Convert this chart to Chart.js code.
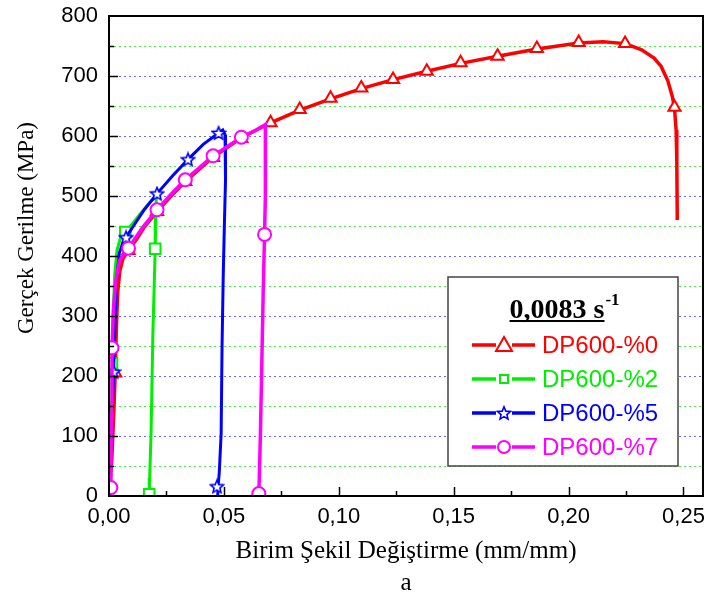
<!DOCTYPE html>
<html>
<head>
<meta charset="utf-8">
<script src="https://cdn.jsdelivr.net/npm/chart.js@4.4.0/dist/chart.umd.min.js"></script>
<style>
  html, body { margin: 0; padding: 0; background: #fff; }
</style>
</head>
<body>
<canvas id="myChart" width="705" height="604"></canvas>
<script>

// curves: [strain, stress MPa]
const curve0 = [[0,0],[0.0012,60],[0.0022,150],[0.0027,205],[0.0032,280],[0.0038,340],[0.0047,375],[0.006,395],[0.0085,410],[0.012,428],[0.0155,449],[0.0209,474],[0.027,500],[0.0332,524],[0.0453,565],[0.0576,597],[0.0703,622],[0.083,643],[0.0964,662],[0.1098,679],[0.1236,694],[0.1383,708],[0.153,721],[0.1691,733],[0.1862,745],[0.2044,755],[0.215,757],[0.2246,754],[0.2316,744],[0.2372,730],[0.2403,716],[0.2432,692],[0.2452,665],[0.2461,646],[0.2468,610],[0.2471,560],[0.2473,460]];
const curve2 = [[0,0],[0.0006,80],[0.001,160],[0.0013,221],[0.0018,300],[0.0025,370],[0.0035,410],[0.005,430],[0.0071,440],[0.0105,455],[0.014,472],[0.0175,488],[0.0206,500],[0.0204,470],[0.0201,412],[0.0196,340],[0.0191,271],[0.0183,104],[0.0177,30],[0.0175,3],[0.0174,0]];
const curve5 = [[0,0],[0.001,100],[0.0016,160],[0.002,207],[0.0026,290],[0.0033,360],[0.0045,405],[0.006,422],[0.0074,431],[0.011,452],[0.0155,478],[0.0209,504],[0.0275,533],[0.0344,561],[0.041,586],[0.0477,605],[0.0495,610],[0.0505,602],[0.0507,526],[0.0502,450],[0.0497,365],[0.0492,250],[0.0488,104],[0.048,40],[0.0475,16],[0.0473,0]];
const curve7 = [[0.0005,0],[0.0008,14],[0.001,130],[0.0013,247],[0.002,315],[0.003,360],[0.0045,392],[0.0085,413],[0.0145,447],[0.0209,477],[0.027,503],[0.0332,527],[0.0453,567],[0.0576,598],[0.064,610],[0.0681,619],[0.0682,590],[0.0679,500],[0.0677,436],[0.0671,340],[0.0665,220],[0.0659,104],[0.0654,30],[0.0652,4],[0.0651,0]];

// marker positions
const marks0 = [[0.0027,205],[0.0085,409],[0.0209,474],[0.0332,524],[0.0453,564],[0.0576,596],[0.0703,622],[0.083,644],[0.0964,663],[0.1098,680],[0.1236,694],[0.1383,708],[0.153,722],[0.1691,733],[0.1862,746],[0.2044,756],[0.2246,754],[0.2461,648]];
const marks2 = [[0.0013,221],[0.0071,440],[0.0201,412],[0.0175,3]];
const marks5 = [[0.002,207],[0.0074,431],[0.0209,504],[0.0344,561],[0.0477,605],[0.047,16]];
const marks7 = [[0.0008,14],[0.0013,247],[0.0085,413],[0.0209,477],[0.0332,527],[0.0453,567],[0.0576,598],[0.0677,436],[0.0652,4]];

const names = ["DP600-%0", "DP600-%2", "DP600-%5", "DP600-%7"];
const colors = ["#ff0000", "#00ee00", "#0000ff", "#ff00ff"];
const rateLabel = "0,0083 s";

const xTitle = "Birim Şekil Değiştirme (mm/mm)";
const yTitle = "Gerçek Gerilme (MPa)";
const caption = "a";

const SERIF = "'Liberation Serif', 'Times New Roman', serif";
const SANS = "'Liberation Sans', Arial, sans-serif";

function pts(arr) {
    return arr.map(p => ({ x: p[0], y: p[1] }));
}

function starImage(color, size) {
    let c = document.createElement("canvas");
    c.width = size;
    c.height = size;
    let g = c.getContext("2d");
    let cx = size / 2, cy = size / 2 + 0.6;
    let R = size / 2 - 1.2, r = R * 0.45;
    g.beginPath();
    for (let i = 0; i < 10; i++) {
        let a = -Math.PI / 2 + i * Math.PI / 5;
        let rr = (i % 2) ? r : R;
        g.lineTo(cx + rr * Math.cos(a), cy + rr * Math.sin(a));
    }
    g.closePath();
    g.fillStyle = "#fff";
    g.fill();
    g.lineWidth = 1.6;
    g.strokeStyle = color;
    g.stroke();
    return c;
}

const star = starImage(colors[2], 16);

function lineSet(curve, color, width, order) {
    return {
        data: pts(curve),
        showLine: true,
        borderColor: color,
        borderWidth: width,
        pointRadius: 0,
        tension: 0,
        order: order
    };
}

function markSet(marks, color, style, radius, order) {
    return {
        data: pts(marks),
        showLine: false,
        pointStyle: style,
        pointRadius: radius,
        pointBackgroundColor: "#fff",
        pointBorderColor: color,
        pointBorderWidth: 2,
        order: order
    };
}

// keep the plot box where the picture has it
function fixBox(s, size) {
    if (s.isHorizontal()) s.height = size;
    else s.width = size;
    s.paddingTop = 0;
    s.paddingBottom = 0;
    s.paddingLeft = 0;
    s.paddingRight = 0;
}

/* frame, inward ticks, y title and the boxed legend */
const extras = {
    id: "extras",
    afterDraw(chart) {
        let ctx = chart.ctx;
        let a = chart.chartArea;
        let xs = chart.scales.x, ys = chart.scales.y;

        ctx.save();
        ctx.strokeStyle = "#000";
        ctx.lineWidth = 1.5;
        ctx.beginPath();
        for (let v = 50; v < 800; v += 50) {
            let y = Math.round(ys.getPixelForValue(v)) + 0.5;
            let len = (v % 100 === 0) ? 9 : 5;
            ctx.moveTo(a.left, y);
            ctx.lineTo(a.left + len, y);
        }
        for (let k = 1; k <= 10; k++) {
            let x = Math.round(xs.getPixelForValue(k * 0.025)) + 0.5;
            let len = (k % 2 === 0) ? 9 : 5;
            ctx.moveTo(x, a.bottom);
            ctx.lineTo(x, a.bottom - len);
        }
        ctx.stroke();

        ctx.lineWidth = 2;
        ctx.strokeRect(a.left, a.top, a.right - a.left, a.bottom - a.top);

        // y title
        ctx.translate(27, 228);
        ctx.rotate(-Math.PI / 2);
        ctx.fillStyle = "#000";
        ctx.font = "23px " + SERIF;
        ctx.textAlign = "center";
        ctx.textBaseline = "middle";
        ctx.fillText(yTitle, 0, 0);
        ctx.restore();

        // legend box
        ctx.save();
        ctx.fillStyle = "#fff";
        ctx.fillRect(448, 277, 230, 189);
        ctx.strokeStyle = "#444";
        ctx.lineWidth = 1.5;
        ctx.strokeRect(448, 277, 230, 189);

        ctx.fillStyle = "#000";
        ctx.font = "bold 28px " + SERIF;
        ctx.textBaseline = "alphabetic";
        ctx.textAlign = "left";
        let tw = ctx.measureText(rateLabel).width;
        let tx = 557 - tw / 2;
        ctx.fillText(rateLabel, tx, 318);
        ctx.fillRect(tx, 320, tw, 2);
        ctx.font = "bold 17px " + SERIF;
        ctx.fillText("-1", tx + tw + 1, 305);

        for (let i = 0; i < names.length; i++) {
            let y = 345 + i * 34;
            ctx.strokeStyle = colors[i];
            ctx.lineWidth = 3.5;
            ctx.beginPath();
            ctx.moveTo(472, y);
            ctx.lineTo(496, y);
            ctx.moveTo(512, y);
            ctx.lineTo(535, y);
            ctx.stroke();

            ctx.lineWidth = 2;
            ctx.fillStyle = "#fff";
            ctx.beginPath();
            if (i === 0) {
                ctx.moveTo(504, y - 8);
                ctx.lineTo(512, y + 6);
                ctx.lineTo(496, y + 6);
                ctx.closePath();
                ctx.fill();
                ctx.stroke();
            } else if (i === 1) {
                ctx.rect(500, y - 4, 8, 8);
                ctx.fill();
                ctx.stroke();
            } else if (i === 2) {
                ctx.drawImage(star, 496, y - 8);
            } else {
                ctx.arc(504, y, 6, 0, Math.PI * 2);
                ctx.fill();
                ctx.stroke();
            }

            ctx.fillStyle = colors[i];
            ctx.font = "24px " + SANS;
            ctx.textBaseline = "middle";
            ctx.fillText(names[i], 542, y + 1);
        }
        ctx.restore();
    }
};

let chart = new Chart(document.getElementById("myChart").getContext("2d"), {
    type: "scatter",

    data: {
        datasets: [
            lineSet(curve0, colors[0], 3.5, 8),
            markSet(marks0, colors[0], "triangle", 7, 7),
            lineSet(curve2, colors[1], 3, 6),
            markSet(marks2, colors[1], "rect", 7.5, 5),
            lineSet(curve5, colors[2], 3, 4),
            markSet(marks5, colors[2], star, 8, 3),
            lineSet(curve7, colors[3], 3.5, 2),
            markSet(marks7, colors[3], "circle", 6.5, 1)
        ]
    },

    plugins: [extras],

    options: {
        responsive: false,
        animation: false,
        layout: {
            autoPadding: false,
            padding: { top: 16, right: 2, left: 0, bottom: 0 }
        },
        plugins: {
            legend: { display: false },
            tooltip: { enabled: false }
        },
        scales: {
            x: {
                type: "linear",
                min: 0,
                max: 0.2585,
                afterFit: s => fixBox(s, 108),
                border: { display: false },
                grid: { display: false, drawTicks: false },
                ticks: {
                    stepSize: 0.025,
                    includeBounds: false,
                    autoSkip: false,
                    maxRotation: 0,
                    padding: 8,
                    color: "#000",
                    font: { family: SANS, size: 22 },
                    callback: v => {
                        let m = Math.round(v * 1000);
                        return (m % 50 === 0) ? (m / 1000).toFixed(2).replace(".", ",") : "";
                    }
                },
                title: {
                    display: true,
                    text: [xTitle, caption],
                    color: "#000",
                    font: { family: SERIF, size: 25, lineHeight: 1.28 },
                    padding: { top: 0, bottom: 5 }
                }
            },
            y: {
                min: 0,
                max: 800,
                afterFit: s => fixBox(s, 109),
                border: { display: false, dash: [2, 3] },
                grid: {
                    drawTicks: false,
                    lineWidth: 1,
                    color: c => {
                        let v = c.tick ? c.tick.value : 0;
                        if (v <= 0 || v >= 800) return "rgba(0,0,0,0)";
                        return (v % 100 === 0) ? "#6a6aff" : "#44ee44";
                    }
                },
                ticks: {
                    stepSize: 50,
                    padding: 11,
                    color: "#000",
                    font: { family: SANS, size: 22 },
                    callback: v => (v % 100 === 0) ? v : ""
                }
            }
        }
    }
});

</script>
</body>
</html>
